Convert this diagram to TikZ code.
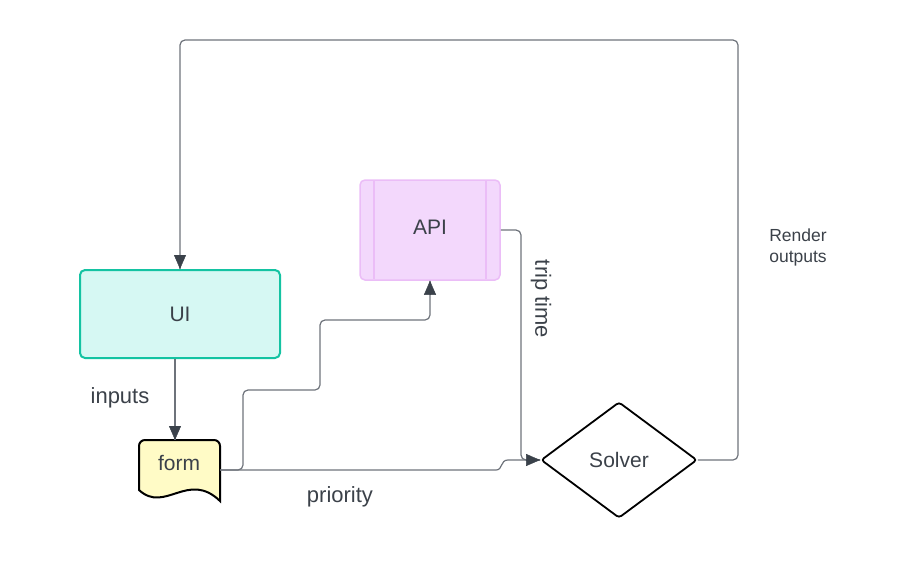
\documentclass[tikz,border=0pt]{standalone}
\usepackage{fontspec}
\setmainfont{Liberation Sans}
\usetikzlibrary{shapes.geometric,arrows.meta}
\definecolor{txtgray}{HTML}{3B4149}
\definecolor{linegray}{HTML}{6E737B}
\definecolor{tipgray}{HTML}{3A414A}
\definecolor{uifill}{HTML}{D6F8F3}
\definecolor{uiline}{HTML}{14C3A2}
\definecolor{apifill}{HTML}{F3D8FC}
\definecolor{apiline}{HTML}{EBBDF7}
\definecolor{formfill}{HTML}{FFFBC6}

\begin{document}
\begin{tikzpicture}[x=1pt, y=-1pt,
	every node/.style={text=txtgray, font=\fontsize{21}{25}\selectfont},
	uibox/.style={draw=uiline, fill=uifill, line width=2pt, rounded corners=5pt, minimum width=200pt, minimum height=88pt, inner sep=0pt},
	apibox/.style={draw=apiline, fill=apifill, line width=1.5pt, rounded corners=5pt, minimum width=140pt, minimum height=100pt, inner sep=0pt},
	solverbox/.style={diamond, draw=black, line width=1.8pt, rounded corners=3pt, minimum width=156pt, minimum height=116pt, inner sep=0pt},
	conn/.style={draw=linegray, line width=1.2pt, rounded corners=5pt},
	tip/.style={-{Triangle[length=14pt, width=12pt]}, tipgray},
	lbl/.style={font=\fontsize{22}{26}\selectfont}]
	\useasboundingbox (0,0) rectangle (897,560);

	\node[uibox] (ui) at (180,314) {UI};
	\node[apibox] (api) at (430,230) {};
	\draw[apiline, line width=1.5pt] (374,181) -- (374,279); % left bar
	\draw[apiline, line width=1.5pt] (486,181) -- (486,279); % right bar
	\node (apitext) at (430,227) {API};

	% form (document shape)
	\node[minimum width=81pt, minimum height=60pt, inner sep=0pt] (form) at (179.5,470) {};
	\draw[black, fill=formfill, line width=2pt, rounded corners=6pt]
		(139,490) -- (139,440) -- (220,440) [sharp corners] -- (220,501)
		.. controls (188,470) and (165,514) .. (139,490) -- cycle;
	\node (formtext) at (179,463) {form};

	\node[solverbox] (solver) at (619,460) {Solver};

	\coordinate (topright) at (738,40); % top right corner
	\coordinate (hopA) at (496,470);
	\coordinate (hopB) at (508,460);

	\draw[conn] (solver.east) -| (topright) -| (ui.north);
	\draw[tip] (180,256) -- (ui.north);

	\draw[conn] (ui.south -| 175,0) -- (175,440);
	\draw[tip] (175,426) -- (175,440);

	\draw[conn] (form.east) -| (243,390) -| (320,320) -| (api.south);
	\draw[tip] (430,294) -- (api.south);

	\draw[conn, sharp corners] (form.east) -- (hopA) .. controls (503,470) and (500,460) .. (hopB) -- (solver.west);
	\draw[conn] (api.east) -| (521,460) -- (solver.west);
	\draw[tip] (527,460) -- (solver.west);

	\node[lbl] (inputs) at (120,398) {inputs};
	\node[lbl] (priority) at (340,497) {priority};
	\node[lbl, rotate=-90] (triptime) at (541,299) {trip time};
	\node[align=center, font=\fontsize{17.5}{21}\selectfont] (render) at (798,247) {Render\\outputs};
\end{tikzpicture}
\end{document}
